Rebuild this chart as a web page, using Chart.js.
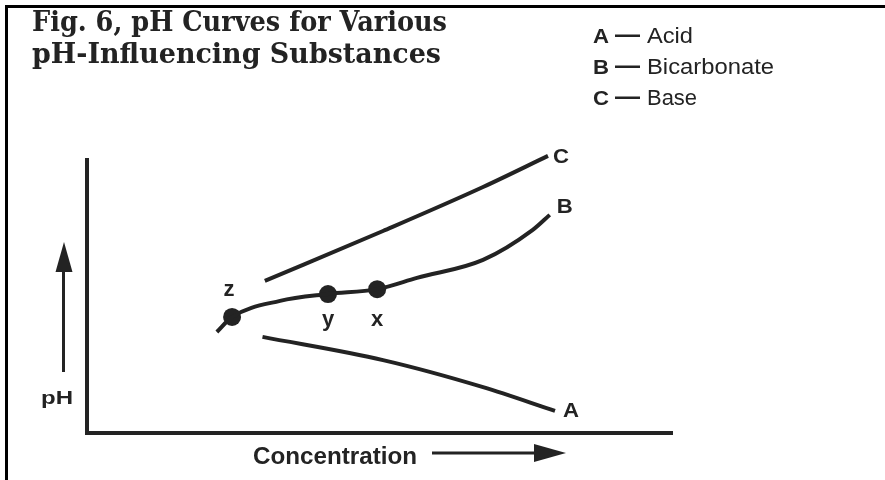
<!DOCTYPE html>
<html>
<head>
<meta charset="utf-8">
<script src="https://cdn.jsdelivr.net/npm/chart.js@4"></script>
<style>
body { margin: 0; background: #fff; }
</style>
</head>
<body>
<canvas id="phChart" width="885" height="480"></canvas>
<script>
// Datos (unidades relativas, 0-10)
const acidX = [3.0, 5.06, 6.77, 8.0];
const acidY = [3.52, 2.67, 1.68, 0.81];
const bicarbX = [2.22, 2.48, 3.30, 4.12, 4.96, 5.64, 6.77, 7.62, 7.91];
const bicarbY = [3.70, 4.25, 4.84, 5.09, 5.27, 5.68, 6.34, 7.44, 7.99];
const baseX = [3.04, 5.06, 6.77, 7.88];
const baseY = [5.57, 7.40, 9.01, 10.15];
const puntosX = [2.48, 4.12, 4.96];
const puntosY = [4.25, 5.09, 5.27];
const puntosLabels = ['z', 'y', 'x'];
const curvaLabels = ['A', 'B', 'C'];
const leyendaLetras = ['A', 'B', 'C'];
const leyendaNombres = ['Acid', 'Bicarbonate', 'Base'];
const titulo = ['Fig. 6, pH Curves for Various', 'pH-Influencing Substances'];
const ejeX = 'Concentration';
const ejeY = 'pH';

const ink = '#232323';

function puntos(xs, ys) {
    return xs.map((x, i) => ({ x: x, y: ys[i] }));
}

// texto con ancho forzado (el escaneo es más ancho que las fuentes locales)
function texto(ctx, str, x, y, font, ancho) {
    ctx.save();
    ctx.font = font;
    const w = ctx.measureText(str).width;
    const s = ancho ? ancho / w : 1;
    ctx.translate(x, y);
    ctx.scale(s, 1);
    ctx.fillText(str, 0, 0);
    ctx.restore();
}

const dibujoExtra = {
    id: 'dibujoExtra',
    afterDraw(chart) {
        const ctx = chart.ctx;
        const sx = chart.scales.x, sy = chart.scales.y;
        ctx.save();
        ctx.fillStyle = ink;
        ctx.strokeStyle = ink;
        ctx.textBaseline = 'alphabetic';

        // título
        texto(ctx, titulo[0], 32, 31, 'bold 27px "DejaVu Serif"', 415);
        texto(ctx, titulo[1], 32, 63, 'bold 27px "DejaVu Serif"', 409);

        // marco del escaneo
        ctx.fillStyle = '#000';
        ctx.fillRect(5, 5, 880, 3);
        ctx.fillRect(5, 5, 3, 475);
        ctx.fillStyle = ink;

        // leyenda
        const filas = [43, 74, 105];
        const anchos = [46, 127, 50];
        leyendaLetras.forEach((l, i) => {
            texto(ctx, l, 593, filas[i], 'bold 21px "Liberation Sans"', 16);
            ctx.fillRect(615, filas[i] - 8.5, 25, 2.5);
            texto(ctx, leyendaNombres[i], 647, filas[i], '22px "Liberation Sans"', anchos[i]);
        });

        // etiquetas de curvas
        const series = [[acidX, acidY], [bicarbX, bicarbY], [baseX, baseY]];
        const offs = [[8, 6], [7, -2], [5, 7]];
        series.forEach((s, i) => {
            const n = s[0].length - 1;
            const px = sx.getPixelForValue(s[0][n]);
            const py = sy.getPixelForValue(s[1][n]);
            texto(ctx, curvaLabels[i], px + offs[i][0], py + offs[i][1], 'bold 21px "Liberation Sans"', 16);
        });

        // etiquetas z, y, x
        ctx.textAlign = 'center';
        const dy = [-21, 32, 37];
        puntosLabels.forEach((l, i) => {
            const px = sx.getPixelForValue(puntosX[i]);
            const py = sy.getPixelForValue(puntosY[i]);
            ctx.font = 'bold 22px "Liberation Sans"';
            ctx.fillText(l, px - (i === 0 ? 3 : 0), py + dy[i]);
        });
        ctx.textAlign = 'left';

        // pH con flecha
        texto(ctx, ejeY, 41, 404, 'bold 18px "Liberation Sans"', 32);
        ctx.fillRect(62, 270, 3, 102);
        ctx.beginPath();
        ctx.moveTo(64, 242);
        ctx.lineTo(72.5, 272);
        ctx.lineTo(55.5, 272);
        ctx.closePath();
        ctx.fill();

        // Concentration con flecha
        texto(ctx, ejeX, 253, 464, 'bold 23px "Liberation Sans"', 164);
        ctx.fillRect(432, 451.5, 105, 3);
        ctx.beginPath();
        ctx.moveTo(566, 453);
        ctx.lineTo(534, 444);
        ctx.lineTo(534, 462);
        ctx.closePath();
        ctx.fill();

        ctx.restore();
    }
};

const lineaBase = {
    showLine: true,
    borderColor: ink,
    borderWidth: 4,
    pointRadius: 0,
    cubicInterpolationMode: 'monotone',
    fill: false,
    clip: false
};

const phChart = new Chart(document.getElementById('phChart'), {
    type: 'scatter',
    data: {
        datasets: [
            Object.assign({ label: 'Acid', data: puntos(acidX, acidY) }, lineaBase),
            Object.assign({ label: 'Bicarbonate', data: puntos(bicarbX, bicarbY) }, lineaBase),
            Object.assign({ label: 'Base', data: puntos(baseX, baseY) }, lineaBase),
            {
                label: 'Puntos',
                data: puntos(puntosX, puntosY),
                showLine: false,
                pointRadius: 9,
                pointBackgroundColor: ink,
                pointBorderColor: ink,
                pointBorderWidth: 0,
                clip: false
            }
        ]
    },
    options: {
        responsive: false,
        animation: false,
        layout: { padding: { left: 87, right: 213, top: 160, bottom: 47 } },
        plugins: {
            legend: { display: false },
            tooltip: { enabled: false }
        },
        scales: {
            x: {
                min: 0, max: 10,
                ticks: { display: false },
                grid: { display: false, drawTicks: false },
                border: { display: true, color: ink, width: 4 }
            },
            y: {
                min: 0, max: 10,
                ticks: { display: false },
                grid: { display: false, drawTicks: false },
                border: { display: true, color: ink, width: 4 }
            }
        }
    },
    plugins: [dibujoExtra]
});
</script>
</body>
</html>
